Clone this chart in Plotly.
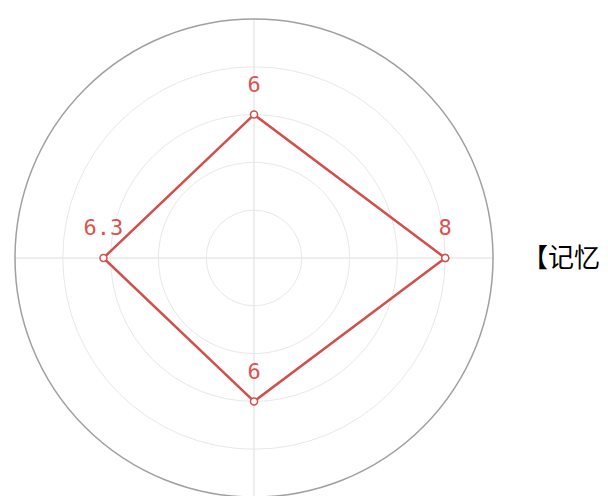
import plotly.graph_objects as go

categories = ["【记忆力】", "【注意力】", "【观察力】", "【思维力】"]
values = [8, 6, 6.3, 6]
value_labels = ["8", "6", "6.3", "6"]

theta = categories + categories[:1]
r = values + values[:1]

W, H = 608, 496
cx, cy, R = 246, 250, 239

fig = go.Figure()
fig.add_trace(go.Scatterpolar(
    r=r, theta=theta, mode="lines+markers",
    line=dict(color="#d0504c", width=2.5),
    marker=dict(size=7, color="white", line=dict(color="#d0504c", width=1.5)),
    cliponaxis=False, showlegend=False, hoverinfo="skip",
))
fig.add_trace(go.Scatterpolar(
    r=values, theta=categories, mode="markers+text",
    text=value_labels, textposition="top center",
    textfont=dict(family="DejaVu Sans Mono", size=22, color="#d9534f"),
    marker=dict(size=26, color="rgba(0,0,0,0)"),
    cliponaxis=False, showlegend=False,
))

fig.update_layout(
    width=W, height=H,
    margin=dict(l=0, r=0, t=0, b=0),
    paper_bgcolor="white",
    polar=dict(
        domain=dict(x=[(cx - R) / W, (cx + R) / W], y=[(H - cy - R) / H, (H - cy + R) / H]),
        bgcolor="white",
        radialaxis=dict(range=[0, 10], dtick=2, showticklabels=False, ticks="",
                        showline=False, gridcolor="#e8e8e8", gridwidth=1),
        angularaxis=dict(direction="counterclockwise", rotation=0,
                         gridcolor="#dddddd", linecolor="#a0a0a0", linewidth=1.5,
                         ticks="outside", ticklen=23, tickcolor="rgba(0,0,0,0)",
                         tickfont=dict(family="Noto Sans CJK SC", size=26, color="black")),
    ),
)

fig.write_html("out.html")
